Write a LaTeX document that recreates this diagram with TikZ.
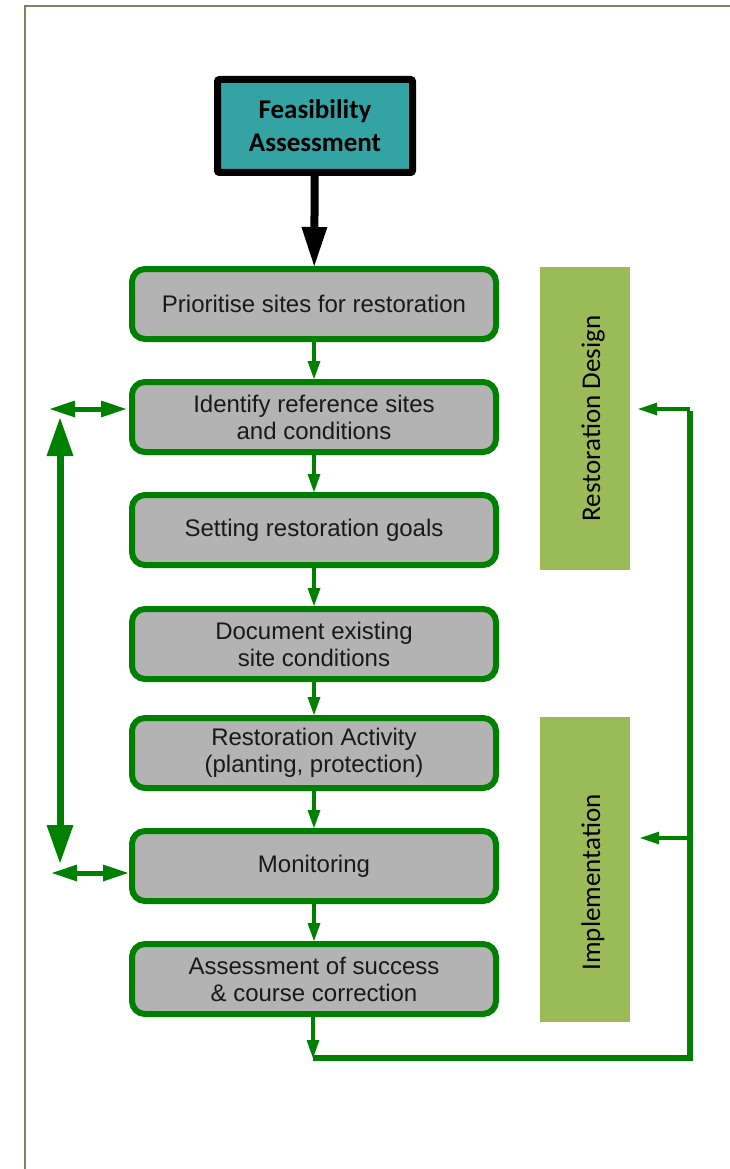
\documentclass[tikz,border=0pt]{standalone}
\usepackage{fontspec}
\setmainfont{Liberation Sans}
\newfontfamily\carlito{Carlito}
\usepackage{tikz}
\usetikzlibrary{arrows.meta, positioning, calc}
\definecolor{verde}{HTML}{008000}
\definecolor{grigio}{HTML}{B3B3B3}
\definecolor{ottanio}{HTML}{33A3A3}
\definecolor{barra}{HTML}{9BBB59}
\definecolor{cornice}{RGB}{128,130,100}
\newcommand{\spinto}[1]{\raisebox{-15pt}[0pt][0pt]{#1}}

\begin{document}
\begin{tikzpicture}[x=1pt, y=-1pt,
    passo/.style={draw=verde, line width=6pt, fill=grigio, rounded corners=13pt,
        minimum width=364pt, minimum height=70pt, inner sep=0pt, align=center,
        text=black!90, font=\fontsize{24}{27}\selectfont},
    fase/.style={fill=barra, rotate=90, minimum width=303pt, minimum height=90pt,
        inner sep=0pt, font=\carlito\fontsize{27}{32}\selectfont},
    freccia/.style={verde, line width=3.5pt, -{Triangle[length=18pt,width=13pt,line width=0pt]}},
    doppia/.style={verde, line width=5pt,
        {Triangle[length=25pt,width=17pt,line width=0pt]}-{Triangle[length=25pt,width=17pt,line width=0pt]}},
    ritorno/.style={verde, line width=4pt, -{Triangle[length=19pt,width=13pt,line width=0pt]}}]
    % Parametri
    \pgfmathsetmacro{\xc}{314}
    \pgfmathsetmacro{\xs}{60}
    \pgfmathsetmacro{\xd}{690}
    \pgfmathsetmacro{\yb}{1058}
    \useasboundingbox (0,0) rectangle (730,1169);
    % Cornice
    \draw[cornice, line width=2.5pt] (25,1169) -- (25,6) -- (730,6);
    % Feasibility
    \node[draw=black, line width=7pt, fill=ottanio, rounded corners=2pt,
        minimum width=195pt, minimum height=93pt, align=center,
        font=\carlito\bfseries\fontsize{27}{33}\selectfont] (feas) at (315,126)
        {Feasibility\\Assessment};
    % Passi
    \node[passo] (prior) at (\xc,304) {Prioritise sites for restoration};
    \node[passo] (ident) at (\xc,417) {Identify reference sites\\and conditions};
    \node[passo] (goals) at (\xc,530) {Setting restoration goals};
    \node[passo] (docu) at (\xc,644) {Document existing\\site conditions};
    \node[passo] (attiv) at (\xc,753) {Restoration Activity\\(planting, protection)};
    \node[passo] (moni) at (\xc,866) {Monitoring};
    \node[passo] (valut) at (\xc,979) {Assessment of success\\\& course correction};
    % Fasi
    \node[fase] (design) at (585,418.5) {\spinto{Restoration Design}};
    \node[fase, minimum width=305pt] (impl) at (585,869.5) {\spinto{Implementation\hspace{26pt}}};
    % Frecce
    \draw[line width=8pt, -{Triangle[length=39pt,width=26pt,line width=0pt]}] (feas) -- (prior);
    \draw[freccia] (prior) -- (ident);
    \draw[freccia] (ident) -- (goals);
    \draw[freccia] (goals) -- (docu);
    \draw[freccia] (docu) -- (attiv);
    \draw[freccia] (attiv) -- (moni);
    \draw[freccia] (moni) -- (valut);
    % Lato sinistro
    \coordinate (lid) at (50,409);
    \coordinate (lmon) at (52,873);
    \coordinate (ltop) at (\xs,418);
    \coordinate (lbot) at (\xs,863);
    \draw[doppia] (lid) -- ([xshift=-3pt]lid -| ident.west);
    \draw[doppia] (lmon) -- ([xshift=-1pt]lmon -| moni.west);
    \draw[verde, line width=7pt,
        {Triangle[length=38pt,width=27pt,line width=0pt]}-{Triangle[length=38pt,width=27pt,line width=0pt]}]
        (ltop) -- (lbot);
    % Ritorno
    \coordinate (fb) at (313,\yb);
    \coordinate (fbtop) at (\xd,409);
    \coordinate (fbmid) at (\xd,838);
    \draw[freccia] (valut.south -| fb) -- (fb);
    \draw[verde, line width=6pt] (fb) -- (\xd,\yb) -- ([yshift=-2pt]fbtop);
    \draw[ritorno] (fbtop) -- ([xshift=8pt]fbtop -| design.south);
    \draw[ritorno] (fbmid) -- ([xshift=10pt]fbmid -| impl.south);
\end{tikzpicture}
\end{document}
